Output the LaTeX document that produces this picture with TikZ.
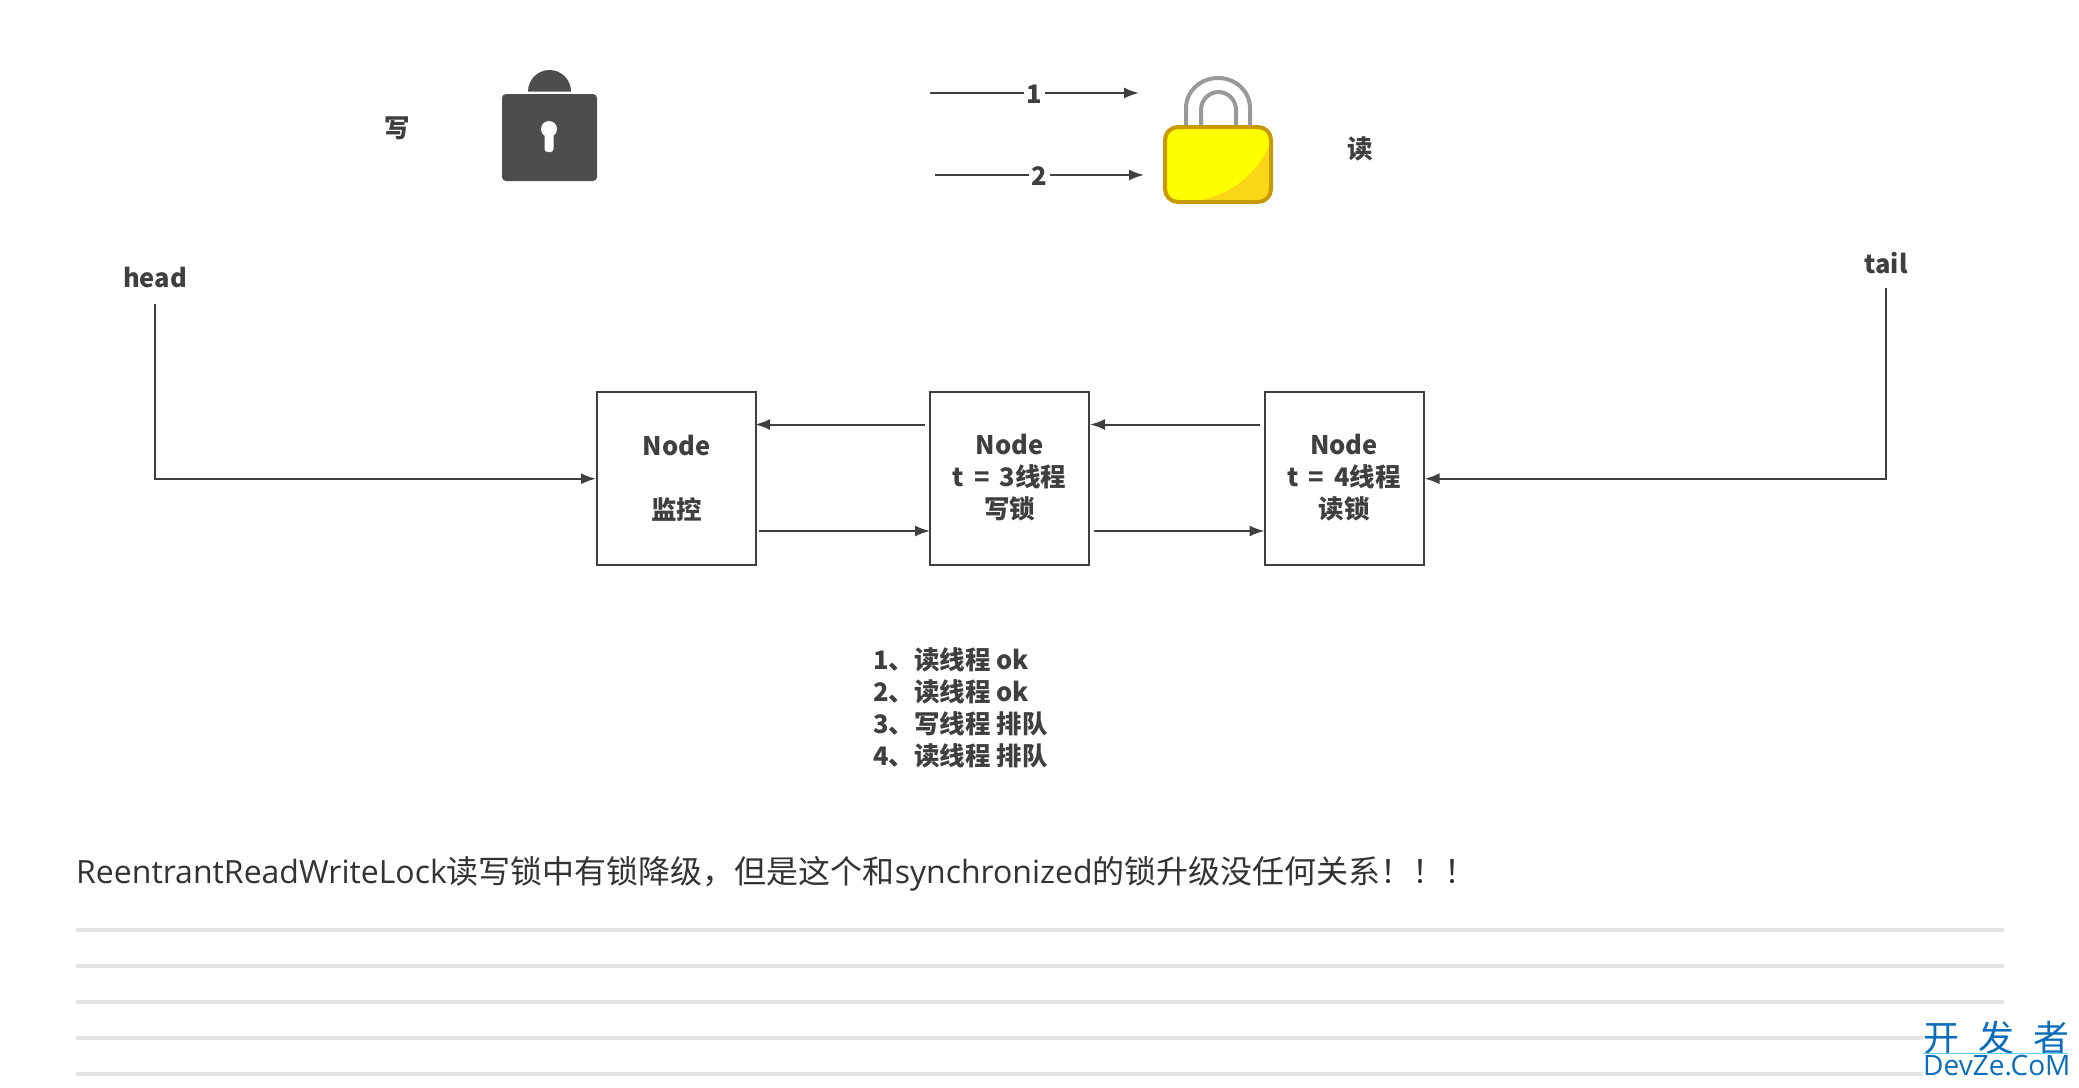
\documentclass[tikz,border=0pt]{standalone}
\usepackage{fontspec}
\setmainfont{Noto Sans CJK SC}
\newfontfamily\latinfont{Open Sans}
\usetikzlibrary{arrows.meta}
\definecolor{inkgrey}{HTML}{3F3F3F}
\definecolor{lockgrey}{HTML}{4D4D4D}
\definecolor{shackle}{HTML}{999999}
\definecolor{lockedge}{HTML}{C99A00}
\definecolor{lockbody}{HTML}{FFFF00}
\definecolor{lockshade}{HTML}{F9D616}
\definecolor{rulegrey}{HTML}{E5E5E5}
\definecolor{markblue}{HTML}{0A6EBD}
\tikzset{
  label/.style={text=inkgrey, font=\bfseries\fontsize{25.5}{32}\selectfont, inner sep=0pt, align=center},
  box/.style={label, draw=inkgrey, line width=2pt, minimum width=159pt, minimum height=173pt},
  link/.style={draw=inkgrey, line width=2pt, -{Latex[length=15pt,width=11pt]}},
}
\begin{document}
\begin{tikzpicture}[x=1pt,y=-1pt]
  \useasboundingbox (0,0) rectangle (2079,1087);
  \node[label] (write) at (397,128) {写};
  \node[label] (read) at (1360,149) {读};
  \node[label] (head) at (155,277) {head};
  \node[label] (tail) at (1886,263) {tail};
  \node[box] (0) at (676.5,478) {Node\\~\\监控};
  \node[box] (1) at (1009.5,478) {Node\\t\,~=\,~3线程\\写锁};
  \node[box] (2) at (1344,478) {Node\\t\,~=\,~4线程\\读锁};
  \node[label, anchor=west, align=left] (list) at (873,708)
    {1、读线程 ok\\2、读线程 ok\\3、写线程 排队\\4、读线程 排队};
  \begin{scope}
    \draw[link] ([xshift=-4pt,yshift=53.5pt]1.west) to ([xshift=-2pt,yshift=53.5pt]0.east);
    \draw[link] ([xshift=2pt,yshift=-53pt]0.east) to ([xshift=1pt,yshift=-53pt]1.west);
    \draw[link] ([xshift=-4pt,yshift=53.5pt]2.west) to ([xshift=0pt,yshift=53.5pt]1.east);
    \draw[link] ([xshift=4pt,yshift=-53pt]1.east) to ([xshift=1pt,yshift=-53pt]2.west);
    \draw[link] ([yshift=-16pt]head.south) |- ([yshift=-0.7pt]0.west);
    \draw[link] ([yshift=-14pt]tail.south) |- ([yshift=-0.7pt]2.east);
  \end{scope}
  \coordinate (a1) at (930,93);
  \coordinate (b1) at (1139,93);
  \coordinate (a2) at (935,175);
  \coordinate (b2) at (1144,175);
  \draw[link] (a1) to node[label, fill=white, inner xsep=3pt, yshift=-1pt] (n1) {1} (b1);
  \draw[link] (a2) to node[label, fill=white, inner xsep=3pt, yshift=-1pt] (n2) {2} (b2);
  % dark lock
  \fill[lockgrey, rounded corners=4pt] (502,94) rectangle (597,181);
  \fill[lockgrey] (528,91.5) arc[start angle=180,end angle=360,x radius=21.5,y radius=21.5] -- cycle;
  \fill[white] (549,129) circle[radius=8];
  \fill[white, rounded corners=3pt] (544.5,130) rectangle (553.5,152);
  % yellow lock
  \draw[shackle, line width=4pt] (1186,128) -- (1186,108)
    arc[start angle=180,end angle=360,x radius=32,y radius=30] -- (1250,128);
  \draw[shackle, line width=4pt] (1201,128) -- (1201,110)
    arc[start angle=180,end angle=360,x radius=17.5,y radius=18] -- (1236,128);
  \fill[lockbody, rounded corners=13pt] (1165,127) rectangle (1271,202);
  \fill[lockshade] (1197,201) .. controls (1235,194) and (1260,170) .. (1270,143)
    -- (1270,187) .. controls (1270,195) and (1264,201) .. (1256,201) -- cycle;
  \draw[lockedge, line width=4pt, rounded corners=13pt] (1165,127) rectangle (1271,202);
  % text and rules
  \node[text=black!80, font=\fontsize{32}{36}\selectfont, anchor=west, inner sep=0pt] (note) at (76,874)
    {{\latinfont ReentrantReadWriteLock}读写锁中有锁降级，但是这个和{\latinfont synchronized}的锁升级没任何关系！！！};
  \foreach \y in {930,966,1002,1038,1074}
    \draw[rulegrey, line width=4pt] (76,\y) -- (2004,\y);
  \fill[white] (1923,1020) rectangle (2079,1087);
  \node[text=markblue, font=\fontsize{36}{40}\selectfont, anchor=west, inner sep=0pt] (mark) at (1923,1038)
    {开\hspace{19pt}发\hspace{19pt}者};
  \draw[cyan!60, line width=1pt] (1923,1053) -- (2068,1053);
  \node[text=markblue, font=\latinfont\fontsize{28}{32}\selectfont, anchor=west, inner sep=0pt] (site) at (1923,1066) {DevZe.CoM};
\end{tikzpicture}
\end{document}
